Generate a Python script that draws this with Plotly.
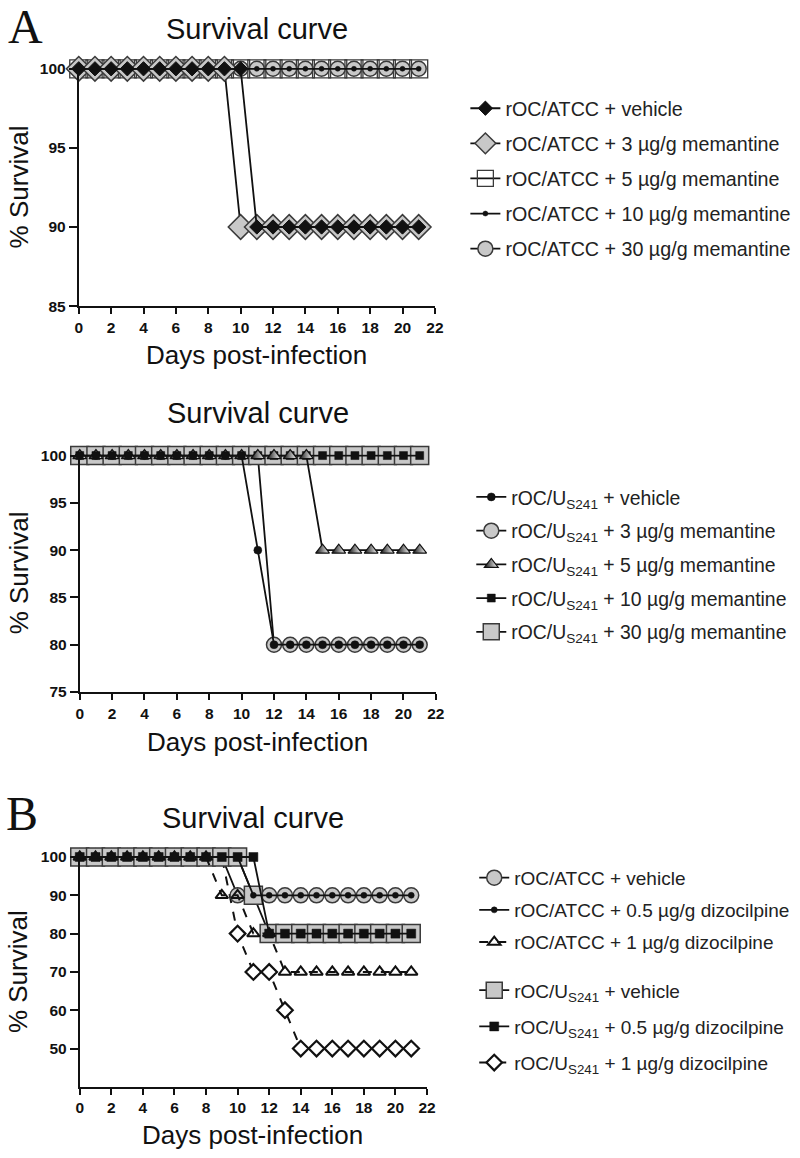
import plotly.graph_objects as go

# ---------------- data ----------------
days = [0, 1, 2, 3, 4, 5, 6, 7, 8, 9, 10, 11, 12, 13, 14, 15, 16, 17, 18, 19, 20, 21]
x_ticks = [0, 2, 4, 6, 8, 10, 12, 14, 16, 18, 20, 22]

# Panel A (top): rOC/ATCC + memantine
a1_vehicle = [100, 100, 100, 100, 100, 100, 100, 100, 100, 100, 100, 90, 90, 90, 90, 90, 90, 90, 90, 90, 90, 90]
a1_mem3 = [100, 100, 100, 100, 100, 100, 100, 100, 100, 100, 90, 90, 90, 90, 90, 90, 90, 90, 90, 90, 90, 90]
a1_mem5 = [100, 100, 100, 100, 100, 100, 100, 100, 100, 100, 100, 100, 100, 100, 100, 100, 100, 100, 100, 100, 100, 100]
a1_mem10 = [100, 100, 100, 100, 100, 100, 100, 100, 100, 100, 100, 100, 100, 100, 100, 100, 100, 100, 100, 100, 100, 100]
a1_mem30 = [100, 100, 100, 100, 100, 100, 100, 100, 100, 100, 100, 100, 100, 100, 100, 100, 100, 100, 100, 100, 100, 100]
a1_yticks = [85, 90, 95, 100]

# Panel A (bottom): rOC/US241 + memantine
a2_vehicle = [100, 100, 100, 100, 100, 100, 100, 100, 100, 100, 100, 90, 80, 80, 80, 80, 80, 80, 80, 80, 80, 80]
a2_mem3 = [100, 100, 100, 100, 100, 100, 100, 100, 100, 100, 100, 100, 80, 80, 80, 80, 80, 80, 80, 80, 80, 80]
a2_mem5 = [100, 100, 100, 100, 100, 100, 100, 100, 100, 100, 100, 100, 100, 100, 100, 90, 90, 90, 90, 90, 90, 90]
a2_mem10 = [100, 100, 100, 100, 100, 100, 100, 100, 100, 100, 100, 100, 100, 100, 100, 100, 100, 100, 100, 100, 100, 100]
a2_mem30 = [100, 100, 100, 100, 100, 100, 100, 100, 100, 100, 100, 100, 100, 100, 100, 100, 100, 100, 100, 100, 100, 100]
a2_yticks = [75, 80, 85, 90, 95, 100]

# Panel B: dizocilpine
b_atcc_vehicle = [100, 100, 100, 100, 100, 100, 100, 100, 100, 100, 90, 90, 90, 90, 90, 90, 90, 90, 90, 90, 90, 90]
b_atcc_diz05 = [100, 100, 100, 100, 100, 100, 100, 100, 100, 100, 100, 90, 90, 90, 90, 90, 90, 90, 90, 90, 90, 90]
b_atcc_diz1 = [100, 100, 100, 100, 100, 100, 100, 100, 100, 90, 90, 80, 80, 70, 70, 70, 70, 70, 70, 70, 70, 70]
b_us_vehicle = [100, 100, 100, 100, 100, 100, 100, 100, 100, 100, 100, 90, 80, 80, 80, 80, 80, 80, 80, 80, 80, 80]
b_us_diz05 = [100, 100, 100, 100, 100, 100, 100, 100, 100, 100, 100, 100, 80, 80, 80, 80, 80, 80, 80, 80, 80, 80]
b_us_diz1 = [100, 100, 100, 100, 100, 100, 100, 100, 100, 100, 80, 70, 70, 60, 50, 50, 50, 50, 50, 50, 50, 50]
b_yticks = [50, 60, 70, 80, 90, 100]

names_a1 = ["rOC/ATCC + vehicle", "rOC/ATCC + 3 µg/g memantine", "rOC/ATCC + 5 µg/g memantine",
            "rOC/ATCC + 10 µg/g memantine", "rOC/ATCC + 30 µg/g memantine"]
names_a2 = ["rOC/U<sub>S241</sub> + vehicle", "rOC/U<sub>S241</sub> + 3 µg/g memantine",
            "rOC/U<sub>S241</sub> + 5 µg/g memantine", "rOC/U<sub>S241</sub> + 10 µg/g memantine",
            "rOC/U<sub>S241</sub> + 30 µg/g memantine"]
names_b = ["rOC/ATCC + vehicle", "rOC/ATCC + 0.5 µg/g dizocilpine", "rOC/ATCC + 1 µg/g dizocilpine",
           "rOC/U<sub>S241</sub> + vehicle", "rOC/U<sub>S241</sub> + 0.5 µg/g dizocilpine",
           "rOC/U<sub>S241</sub> + 1 µg/g dizocilpine"]

# ---------------- style ----------------
W, H = 800, 1158
GREY = "#c8c8c8"
EDGE = "#3a3a3a"
INK = "#111111"
SANS = "Arial, Liberation Sans, sans-serif"
SERIF = "Times New Roman, Liberation Serif, serif"


def fx(p):
    return p / W


def fy(p):
    return 1 - p / H


fig = go.Figure()


def add(xa, ya, y, name, legend, rank, symbol, size, color, mline=EDGE, mw=1.5,
        dash="solid", lw=1.8, gradient=None):
    marker = dict(symbol=symbol, size=size, color=color, line=dict(color=mline, width=mw))
    if gradient is not None:
        marker["gradient"] = gradient
    fig.add_trace(go.Scatter(
        x=days, y=y, mode="lines+markers", name=name, xaxis=xa, yaxis=ya,
        legend=legend, legendrank=rank, legendgroup=f"{legend}-{rank}",
        line=dict(color=INK, width=lw, dash=dash), marker=marker, cliponaxis=False,
        hoverinfo="skip",
    ))


# Panel A1 (draw order bottom -> top)
add("x", "y", a1_mem5, names_a1[2], "legend", 3, "square-open", 18, EDGE, mline=EDGE, mw=1.3)
add("x", "y", a1_mem30, names_a1[4], "legend", 5, "circle", 15, GREY)
add("x", "y", a1_mem3, names_a1[1], "legend", 2, "diamond", 19, GREY)
add("x", "y", a1_vehicle, names_a1[0], "legend", 1, "diamond", 11, INK, mline=INK, mw=1)
add("x", "y", a1_mem10, names_a1[3], "legend", 4, "circle", 5, INK, mline=INK, mw=0.5)

# Panel A2
add("x2", "y2", a2_mem3, names_a2[1], "legend2", 2, "circle", 15, GREY)
add("x2", "y2", a2_mem30, names_a2[4], "legend2", 5, "square", 18, GREY)
add("x2", "y2", a2_mem10, names_a2[3], "legend2", 4, "square", 8, INK, mline=INK, mw=0.5)
add("x2", "y2", a2_mem5, names_a2[2], "legend2", 3, "triangle-up", 12, INK, mline=INK, mw=1.2,
    gradient=dict(type="horizontal", color="white"))
add("x2", "y2", a2_vehicle, names_a2[0], "legend2", 1, "circle", 8, INK, mline=INK, mw=0.5)

# Panel B
add("x3", "y3", b_us_diz1, names_b[5], "legend4", 3, "diamond", 12, "white", mline=INK, mw=2.2,
    dash="dash", lw=2)
add("x3", "y3", b_atcc_vehicle, names_b[0], "legend3", 1, "circle", 15, GREY)
add("x3", "y3", b_us_vehicle, names_b[3], "legend4", 1, "square", 18, GREY)
add("x3", "y3", b_atcc_diz05, names_b[1], "legend3", 2, "circle", 6, INK, mline=INK, mw=0.5)
add("x3", "y3", b_us_diz05, names_b[4], "legend4", 2, "square", 9, INK, mline=INK, mw=0.5)
add("x3", "y3", b_atcc_diz1, names_b[2], "legend3", 3, "triangle-up-open", 11, INK, mline=INK, mw=2,
    dash="dash", lw=2)

# ---------------- axes ----------------
tickfont = dict(family=SANS, size=15.5, color=INK)


def bold(vals):
    return [f"<b>{v}</b>" for v in vals]


def xaxis(domain, anchor):
    return dict(domain=domain, anchor=anchor, range=[0, 22], tickvals=x_ticks, ticktext=bold(x_ticks),
                showline=True, linecolor=INK, linewidth=2, ticks="outside", ticklen=6, tickwidth=2,
                tickcolor=INK, showgrid=False, zeroline=False, tickfont=tickfont, fixedrange=True)


def yaxis(domain, anchor, rng, tv):
    return dict(domain=domain, anchor=anchor, range=rng, tickvals=tv, ticktext=bold(tv),
                showline=True, linecolor=INK, linewidth=2, ticks="outside", ticklen=8, tickwidth=2,
                tickcolor=INK, showgrid=False, zeroline=False, tickfont=tickfont, fixedrange=True)


def legend(x, y, gap, size):
    return dict(x=fx(x), y=fy(y), xanchor="left", yanchor="top", itemwidth=30,
                font=dict(family=SANS, size=size, color="#222222"),
                tracegroupgap=gap, bgcolor="rgba(0,0,0,0)", traceorder="grouped")


fig.update_layout(
    width=W, height=H, margin=dict(l=0, r=0, t=0, b=0),
    paper_bgcolor="white", plot_bgcolor="white", hovermode=False,
    xaxis=xaxis([fx(76), fx(438)], "y"),
    yaxis=yaxis([fy(303), fy(61)], "x", [85, 100.1], a1_yticks),
    xaxis2=xaxis([fx(77), fx(439)], "y2"),
    yaxis2=yaxis([fy(694), fy(453)], "x2", [75, 100.15], a2_yticks),
    xaxis3=xaxis([fx(77), fx(430)], "y3"),
    yaxis3=yaxis([fy(1094), fy(860)], "x3", [40, 100.3], b_yticks),
    legend=legend(469, 83, 6.5, 19.7),
    legend2=legend(475, 477, 5.5, 19.4),
    legend3=legend(478, 863, 4.5, 19),
    legend4=legend(478, 977, 8.5, 19),
    showlegend=True,
)

ann = []


def text(t, x, y, size, family=SANS, angle=0, xanchor="center"):
    ann.append(dict(text=t, x=fx(x), y=fy(y), xref="paper", yref="paper", showarrow=False,
                    xanchor=xanchor, yanchor="middle", textangle=angle,
                    font=dict(family=family, size=size, color=INK)))


text("A", 2, 20, 48, family=SERIF, xanchor="left")
text("B", 0, 817, 48, family=SERIF, xanchor="left")
text("Survival curve", 257, 22, 29)
text("Survival curve", 258, 411, 29)
text("Survival curve", 253, 822, 29)
text("Days post-infection", 257, 353, 26)
text("Days post-infection", 258, 745, 26)
text("Days post-infection", 253, 1143, 26)
text("% Survival", 15, 182, 26, angle=-90)
text("% Survival", 15, 573, 26, angle=-90)
text("% Survival", 15, 977, 26, angle=-90)
fig.update_layout(annotations=ann)

# remove the page's default body margin so the figure sits at the window's top-left corner
fig.write_html("out.html", config={"displayModeBar": False},
               post_script="document.body.style.margin='0';")
